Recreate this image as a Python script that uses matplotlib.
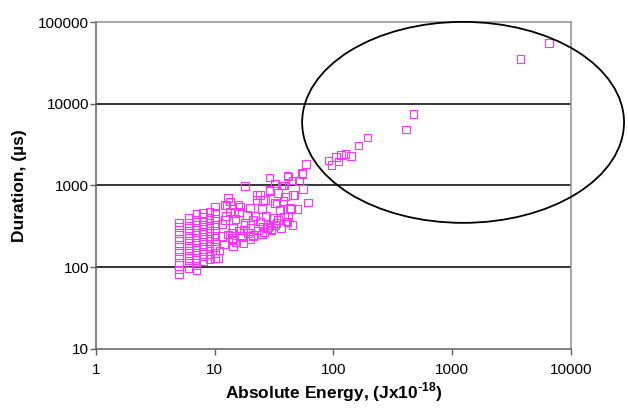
import matplotlib.pyplot as plt
from matplotlib.patches import Ellipse

plt.rcParams['font.family'] = ['Liberation Sans', 'DejaVu Sans']

# low-energy columns (energy fixed, durations stacked)
col_energy = [5, 6, 7, 8, 9, 10]
col_durations = [
    [83, 94, 112, 132, 157, 186, 220, 260, 308, 351],
    [97, 112, 129, 148, 171, 196, 226, 260, 299, 345, 397],
    [92, 105, 122, 140, 162, 186, 215, 248, 285, 330, 380, 448],
    [117, 135, 155, 178, 205, 236, 272, 315, 360, 410, 457],
    [125, 145, 170, 195, 225, 260, 300, 345, 400, 470],
    [130, 150, 175, 205, 240, 280, 330, 390, 460, 551],
]

# scattered cloud between ~10 and ~65
cloud_energy = [10.7, 11.5, 12.2, 12.2, 12.6, 13, 13.4, 13.9, 14.3, 14.3, 14.3, 14.7,
                15.8, 16.3, 17.4, 17.4, 18, 18, 18.6, 19.8, 21, 21, 21, 22.6, 22.6,
                24, 24.9, 24.9, 25.6, 25.6, 26.4, 27.4, 29, 29, 29, 29, 32, 32, 32,
                33.2, 34, 34, 35, 35.4, 36.5, 37.7, 38.5, 38.5, 39, 40.3, 41, 41,
                41.6, 41.6, 43, 44, 45, 45.5, 47, 49.6, 51, 54, 55, 55.5, 59, 61,
                11, 12, 13, 15, 16, 17, 19, 20, 23, 26, 28, 30, 12.5, 15, 18, 22,
                11.5, 13.5, 16, 20, 24, 27, 31, 14, 17, 20, 25, 30, 36, 45, 33, 38]
cloud_duration = [129, 240, 577, 378, 577, 697, 634, 215, 226, 178, 299, 457,
                  577, 551, 286, 196, 985, 345, 436, 526, 248, 236, 378, 765, 665,
                  765, 516, 512, 313, 665, 665, 299, 330, 862, 880, 1250, 605, 330, 1060,
                  345, 803, 378, 500, 500, 1000, 1000, 995, 415, 730, 360, 355, 1320,
                  415, 1280, 526, 516, 1145, 765, 759, 516, 1140, 1410, 1380, 898, 1830, 617,
                  160, 190, 250, 200, 280, 230, 260, 300, 280, 270, 310, 290, 420, 390, 330, 420,
                  340, 480, 470, 330, 360, 420, 400, 260, 240, 220, 250, 280, 300, 330, 600, 640]

# high-energy tail (inside the ellipse)
tail_energy = [91, 96, 105, 110, 116, 126, 140, 162, 193, 410, 473, 3770, 6530]
tail_duration = [2030, 1780, 2210, 1955, 2350, 2425, 2275, 3090, 3850, 4820, 7550, 35200, 55300]

energy = []
duration = []
for e, ds in zip(col_energy, col_durations):
    for d in ds:
        energy.append(e)
        duration.append(d)
energy += cloud_energy + tail_energy
duration += cloud_duration + tail_duration

fig = plt.figure(figsize=(6.28, 4.08), dpi=100)
ax = fig.add_axes([0.153, 0.145, 0.756, 0.801])

ax.scatter(energy, duration, marker='s', s=30, facecolors='none',
           edgecolors='#ff33ff', linewidths=0.8, zorder=3)

ax.set_xscale('log')
ax.set_yscale('log')
ax.set_xlim(1, 10000)
ax.set_ylim(10, 100000)
ax.set_xticks([1, 10, 100, 1000, 10000])
ax.set_xticklabels(['1', '10', '100', '1000', '10000'])
ax.set_yticks([10, 100, 1000, 10000, 100000])
ax.set_yticklabels(['10', '100', '1000', '10000', '100000'])
ax.minorticks_off()

for yv in [100, 1000, 10000]:
    ax.axhline(yv, color='black', lw=1.1, zorder=1)

for side in ['top', 'right']:
    ax.spines[side].set_color('#909090')
for side in ['left', 'bottom']:
    ax.spines[side].set_color('#606060')
for sp in ax.spines.values():
    sp.set_linewidth(1.1)

ax.tick_params(axis='y', length=4, width=1, color='#606060', labelsize=11, pad=1)
ax.tick_params(axis='x', length=4, width=1, color='#606060', labelsize=11, pad=6)

ax.set_xlabel('Absolute Energy, (Jx10$^{\\mathregular{\\text{-}18}}$)', fontsize=12.5,
              fontweight='bold', labelpad=3)
ax.set_ylabel('Duration, (µs)', fontsize=12.5, fontweight='bold', labelpad=8)

ell = Ellipse((0.773, 0.693), 0.678, 0.615, transform=ax.transAxes,
              fill=False, edgecolor='black', lw=1.3, clip_on=False, zorder=4)
ax.add_patch(ell)

fig.savefig('out.png', dpi=100)
